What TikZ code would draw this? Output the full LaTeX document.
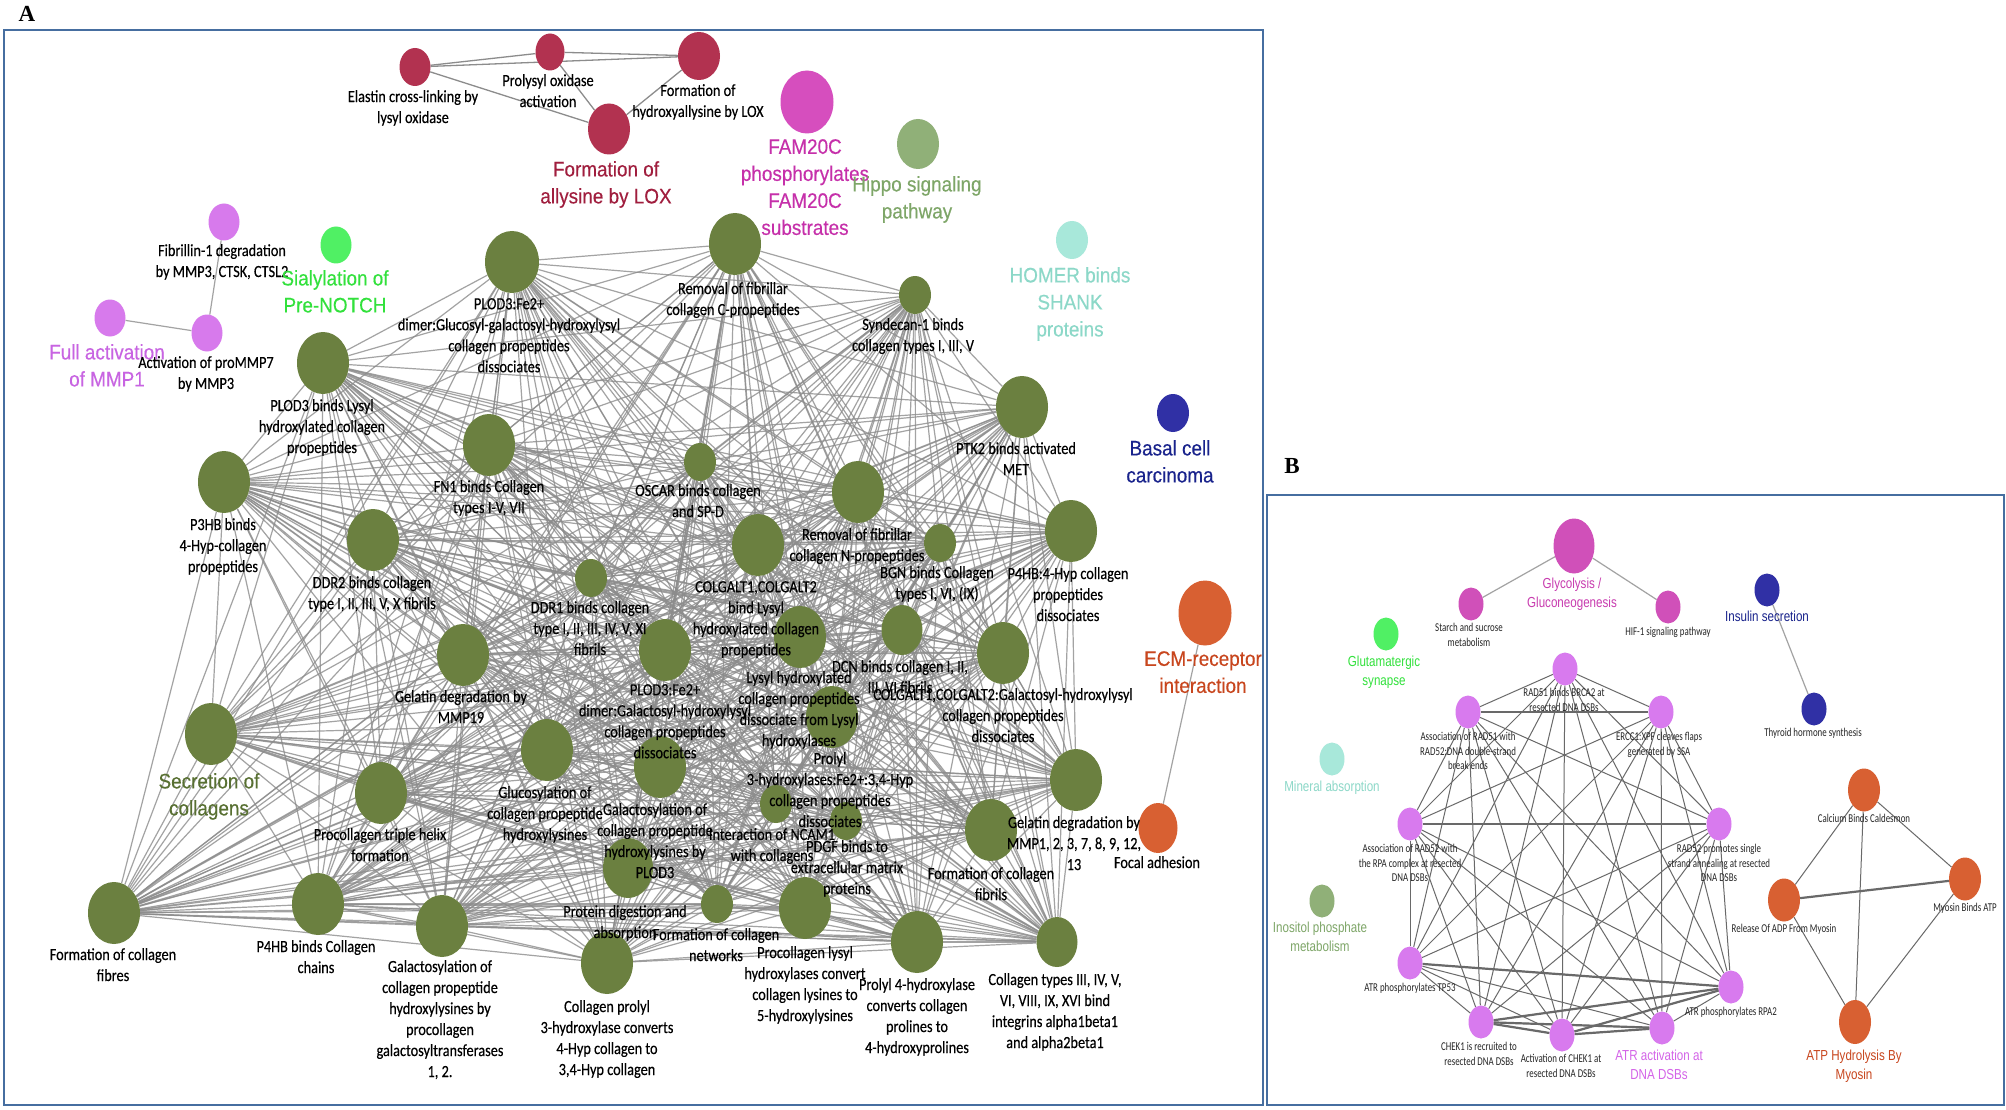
\documentclass[tikz,border=0pt]{standalone}
\usepackage{fontspec}
\setmainfont{Carlito}
\newfontfamily\calfa[FakeStretch=0.84,FakeBold=0.35]{Carlito}
\newfontfamily\calfb[FakeStretch=0.74]{Carlito}
\newfontfamily\arifa[FakeStretch=0.9,FakeBold=0.3]{Liberation Sans}
\newfontfamily\arifb[FakeStretch=0.8]{Liberation Sans}
\newfontfamily\timfa{Liberation Serif}
\usetikzlibrary{shapes.geometric}
\pgfdeclarelayer{back}
\pgfdeclarelayer{bg}
\pgfsetlayers{back,bg,main}
\newcommand\labfa{\calfa\fontsize{17}{21}\selectfont}
\newcommand\labfb{\calfb\fontsize{12}{14.5}\selectfont}
\newcommand\bigfa{\arifa\fontsize{21}{27}\selectfont}
\newcommand\bigfb{\arifb\fontsize{14.5}{18.5}\selectfont}
\newcommand\panelf{\timfa\bfseries\fontsize{23}{23}\selectfont}
\definecolor{olv}{RGB}{107,128,64}
\definecolor{oliveLab}{RGB}{88,112,50}
\definecolor{loxN}{RGB}{178,50,80}
\definecolor{loxL}{RGB}{160,30,62}
\definecolor{famN}{RGB}{214,78,190}
\definecolor{famL}{RGB}{198,48,170}
\definecolor{hipN}{RGB}{144,176,120}
\definecolor{hipL}{RGB}{126,166,104}
\definecolor{mmpN}{RGB}{215,122,236}
\definecolor{mmpL}{RGB}{200,100,226}
\definecolor{sialN}{RGB}{80,240,100}
\definecolor{sialL}{RGB}{50,225,60}
\definecolor{homN}{RGB}{168,232,218}
\definecolor{homL}{RGB}{140,216,200}
\definecolor{basN}{RGB}{48,48,165}
\definecolor{basL}{RGB}{25,35,140}
\definecolor{ecmN}{RGB}{216,96,50}
\definecolor{ecmL}{RGB}{200,70,30}
\definecolor{glyN}{RGB}{208,80,185}
\definecolor{glyL}{RGB}{200,60,175}
\definecolor{pinkN}{RGB}{216,122,238}
\definecolor{pinkL}{RGB}{212,100,232}
\definecolor{frameC}{RGB}{70,110,160}
\definecolor{edgeA}{RGB}{140,140,140}
\definecolor{edgeB}{RGB}{105,105,105}
\tikzset{
  nd/.style={ellipse, draw=none, inner sep=0pt},
  gbig/.style={nd, fill=olv, minimum width=52pt, minimum height=62pt},
  gmed/.style={nd, fill=olv, minimum width=41pt, minimum height=50pt},
  gsml/.style={nd, fill=olv, minimum width=32pt, minimum height=38pt},
  bnd/.style={nd, minimum width=25pt, minimum height=33pt},
  lab/.style={font=\labfa, align=center, anchor=north, inner sep=0pt, text=black},
  biglab/.style={font=\bigfa, align=center, anchor=north, inner sep=0pt},
  labb/.style={font=\labfb, align=center, anchor=north, inner sep=0pt, text=black!85},
  biglabb/.style={font=\bigfb, align=center, anchor=north, inner sep=0pt},
  aedge/.style={draw=edgeA, line width=1.2pt, draw opacity=0.8},
  ledge/.style={draw=edgeA, line width=1.3pt},
  bedge/.style={draw=edgeB, line width=1pt},
  bthick/.style={draw=edgeB, line width=2.2pt},
  frame/.style={draw=frameC, line width=2pt}
}
\begin{document}
\begin{tikzpicture}[x=1pt,y=-1pt]
\useasboundingbox (0,0) rectangle (2006,1110);
\begin{pgfonlayer}{back}
\fill[white] (0,0) rectangle (2006,1110);
\end{pgfonlayer}
\draw[frame] (4,30) rectangle (1263,1105);
\draw[frame] (1267,495) rectangle (2004,1105);
\node[font=\panelf, inner sep=0pt] (pA) at (27,14) {A};
\node[font=\panelf, inner sep=0pt] (pB) at (1292,466) {B};

% ---------- Panel A : small clusters ----------
\node[nd, fill=loxN, minimum width=31pt, minimum height=38pt] (l1) at (415,67) {};
\node[nd, fill=loxN, minimum width=29pt, minimum height=37pt] (l2) at (550,52) {};
\node[nd, fill=loxN, minimum width=42pt, minimum height=48pt] (l3) at (699,56) {};
\node[nd, fill=loxN, minimum width=42pt, minimum height=51pt] (l4) at (609,129) {};
\node[nd, fill=famN, minimum width=53pt, minimum height=63pt] (fam) at (807,102) {};
\node[nd, fill=hipN, minimum width=42pt, minimum height=50pt] (hip) at (918,144) {};
\node[nd, fill=homN, minimum width=32pt, minimum height=38pt] (hom) at (1072,240) {};
\node[nd, fill=basN, minimum width=32pt, minimum height=38pt] (bas) at (1173,413) {};
\node[nd, fill=ecmN, minimum width=53pt, minimum height=65pt] (ecm) at (1205,613) {};
\node[nd, fill=ecmN, minimum width=39pt, minimum height=50pt] (foc) at (1158,828) {};
\node[nd, fill=mmpN, minimum width=31pt, minimum height=37pt] (m1) at (224,222) {};
\node[nd, fill=mmpN, minimum width=31pt, minimum height=37pt] (m2) at (110,318) {};
\node[nd, fill=mmpN, minimum width=31pt, minimum height=37pt] (m3) at (207,333) {};
\node[nd, fill=sialN, minimum width=31pt, minimum height=37pt] (sia) at (336,245) {};

% ---------- Panel A : collagen cluster ----------
\node[gbig, minimum width=54pt] (g1) at (512,262) {};
\node[gbig] (g2) at (735,244) {};
\node[gsml] (g3) at (915,295) {};
\node[gbig] (g4) at (323,363) {};
\node[gbig] (g5) at (224,482) {};
\node[gbig] (g6) at (489,445) {};
\node[gsml] (g7) at (700,462) {};
\node[gbig] (g8) at (1022,407) {};
\node[gbig] (g9) at (858,492) {};
\node[gbig] (g10) at (758,545) {};
\node[gsml] (g11) at (940,543) {};
\node[gbig] (g12) at (373,540) {};
\node[gsml] (g13) at (591,578) {};
\node[gbig] (g14) at (1071,531) {};
\node[gbig] (g15) at (463,655) {};
\node[gbig] (g16) at (665,650) {};
\node[gbig] (g17) at (800,637) {};
\node[gmed] (g18) at (902,630) {};
\node[gbig] (g19) at (1003,653) {};
\node[gbig] (g20) at (832,717) {};
\node[gbig] (g21) at (211,734) {};
\node[gbig] (g22) at (547,750) {};
\node[gbig] (g23) at (660,767) {};
\node[gbig] (g24) at (381,793) {};
\node[gsml] (g25) at (776,804) {};
\node[gsml] (g26) at (846,821) {};
\node[gbig] (g27) at (1076,780) {};
\node[gbig] (g28) at (991,830) {};
\node[gbig, minimum width=50pt, minimum height=60pt] (g29) at (628,868) {};
\node[gsml] (g30) at (717,904) {};
\node[gbig] (g31) at (805,908) {};
\node[gbig] (g32) at (114,913) {};
\node[gbig] (g33) at (318,904) {};
\node[gbig] (g34) at (442,926) {};
\node[gbig] (g35) at (607,963) {};
\node[gbig] (g36) at (917,942) {};
\node[gmed] (g37) at (1057,942) {};

% ---------- Panel B nodes ----------
\node[nd, fill=glyN, minimum width=41pt, minimum height=55pt] (gly) at (1574,546) {};
\node[bnd, fill=glyN] (sta) at (1471,604) {};
\node[bnd, fill=glyN] (hif) at (1668,607) {};
\node[bnd, fill=basN] (ins) at (1767,590) {};
\node[bnd, fill=basN] (thy) at (1814,709) {};
\node[bnd, fill=sialN] (glu) at (1386,634) {};
\node[bnd, fill=homN] (min) at (1332,759) {};
\node[bnd, fill=hipN] (ino) at (1322,901) {};
\node[bnd, fill=pinkN] (r1) at (1565,669) {};
\node[bnd, fill=pinkN] (r2) at (1661,712) {};
\node[bnd, fill=pinkN] (r3) at (1719,824) {};
\node[bnd, fill=pinkN] (r4) at (1731,987) {};
\node[bnd, fill=pinkN] (r5) at (1662,1028) {};
\node[bnd, fill=pinkN] (r6) at (1562,1035) {};
\node[bnd, fill=pinkN] (r7) at (1481,1022) {};
\node[bnd, fill=pinkN] (r8) at (1410,963) {};
\node[bnd, fill=pinkN] (r9) at (1410,824) {};
\node[bnd, fill=pinkN] (r10) at (1468,712) {};
\node[nd, fill=ecmN, minimum width=32pt, minimum height=43pt] (o1) at (1864,790) {};
\node[nd, fill=ecmN, minimum width=32pt, minimum height=43pt] (o2) at (1965,879) {};
\node[nd, fill=ecmN, minimum width=32pt, minimum height=43pt] (o3) at (1784,900) {};
\node[nd, fill=ecmN, minimum width=32pt, minimum height=44pt] (o4) at (1855,1022) {};

% ---------- edges ----------
\begin{pgfonlayer}{bg}
\foreach \i in {1,...,36}{
  \pgfmathtruncatemacro\js{\i+1}
  \foreach \j in {\js,...,37}{ \draw[aedge] (g\i) -- (g\j); }
}
\draw[ledge] (l1) -- (l2);
\draw[ledge] (l1) -- (l3);
\draw[ledge] (l1) -- (l4);
\draw[ledge] (l2) -- (l3);
\draw[ledge] (l2) -- (l4);
\draw[ledge] (l3) -- (l4);
\draw[aedge] (m1) -- (m3);
\draw[aedge] (m2) -- (m3);
\draw[aedge] (ecm) -- (foc);
\draw[aedge] (gly) -- (sta);
\draw[aedge] (gly) -- (hif);
\draw[aedge] (ins) -- (thy);
\foreach \i in {1,...,9}{
  \pgfmathtruncatemacro\js{\i+1}
  \foreach \j in {\js,...,10}{ \draw[bedge] (r\i) -- (r\j); }
}
\draw[bthick] (r10) -- (r2);
\draw[bthick] (r9) -- (r3);
\draw[bthick] (r8) -- (r4);
\draw[bthick] (r7) -- (r4);
\draw[bthick] (r7) -- (r5);
\draw[bthick] (r6) -- (r4);
\draw[bthick] (r6) -- (r5);
\draw[bthick] (r7) -- (r6);
\draw[bedge] (o1) -- (o3);
\draw[bedge] (o1) -- (o2);
\draw[bedge] (o1) -- (o4);
\draw[bthick] (o3) -- (o2);
\draw[bedge] (o3) -- (o4);
\draw[bedge] (o2) -- (o4);
\end{pgfonlayer}

% ---------- Panel A labels ----------
\node[lab] (tl1) at (413,90) {Elastin cross-linking by\\lysyl oxidase};
\node[lab] (tl2) at (548,74) {Prolysyl oxidase\\activation};
\node[lab] (tl3) at (698,84) {Formation of\\hydroxyallysine by LOX};
\node[biglab, text=loxL] (tl4) at (606,161) {Formation of\\allysine by LOX};
\node[biglab, text=famL] (tfam) at (805,139) {FAM20C\\phosphorylates\\FAM20C\\substrates};
\node[biglab, text=hipL] (thip) at (917,176) {Hippo signaling\\pathway};
\node[biglab, text=homL] (thom) at (1070,267) {HOMER binds\\SHANK\\proteins};
\node[biglab, text=basL] (tbas) at (1170,440) {Basal cell\\carcinoma};
\node[biglab, text=ecmL] (tecm) at (1203,651) {ECM-receptor\\interaction};
\node[lab] (tfoc) at (1157,856) {Focal adhesion};
\node[lab] (tm1) at (222,244) {Fibrillin-1 degradation\\by MMP3, CTSK, CTSL2};
\node[biglab, text=sialL] (tsia) at (335,270) {Sialylation of\\Pre-NOTCH};
\node[biglab, text=mmpL] (tm2) at (107,344) {Full activation\\of MMP1};
\node[lab] (tm3) at (206,356) {Activation of proMMP7\\by MMP3};

\node[lab] (t1) at (509,298) {PLOD3:Fe2+\\dimer:Glucosyl-galactosyl-hydroxylysyl\\collagen propeptides\\dissociates};
\node[lab] (t2) at (733,282) {Removal of fibrillar\\collagen C-propeptides};
\node[lab] (t3) at (913,318) {Syndecan-1 binds\\collagen types I, III, V};
\node[lab] (t4) at (322,399) {PLOD3 binds Lysyl\\hydroxylated collagen\\propeptides};
\node[lab] (t5) at (223,518) {P3HB binds\\4-Hyp-collagen\\propeptides};
\node[lab] (t6) at (489,480) {FN1 binds Collagen\\types I-V, VII};
\node[lab] (t7) at (698,484) {OSCAR binds collagen\\and SP-D};
\node[lab] (t8) at (1016,442) {PTK2 binds activated\\MET};
\node[lab] (t9) at (857,528) {Removal of fibrillar\\collagen N-propeptides};
\node[lab] (t10) at (756,581) {COLGALT1,COLGALT2\\bind Lysyl\\hydroxylated collagen\\propeptides};
\node[lab] (t11) at (937,566) {BGN binds Collagen\\types I, VI, (IX)};
\node[lab] (t12) at (372,576) {DDR2 binds collagen\\type I, II, III, V, X fibrils};
\node[lab] (t13) at (590,601) {DDR1 binds collagen\\type I, II, III, IV, V, XI\\fibrils};
\node[lab] (t14) at (1068,567) {P4HB:4-Hyp collagen\\propeptides\\dissociates};
\node[lab] (t15) at (461,690) {Gelatin degradation by\\MMP19};
\node[lab] (t16) at (665,684) {PLOD3:Fe2+\\dimer:Galactosyl-hydroxylysyl\\collagen propeptides\\dissociates};
\node[lab] (t17) at (799,671) {Lysyl hydroxylated\\collagen propeptides\\dissociate from Lysyl\\hydroxylases};
\node[lab] (t18) at (900,660) {DCN binds collagen I, II,\\III, VI fibrils};
\node[lab] (t19) at (1003,688) {COLGALT1,COLGALT2:Galactosyl-hydroxylysyl\\collagen propeptides\\dissociates};
\node[lab] (t20) at (830,752) {Prolyl\\3-hydroxylases:Fe2+:3,4-Hyp\\collagen propeptides\\dissociates};
\node[biglab, text=oliveLab] (t21) at (209,773) {Secretion of\\collagens};
\node[lab] (t22) at (545,786) {Glucosylation of\\collagen propeptide\\hydroxylysines};
\node[lab] (t23) at (655,803) {Galactosylation of\\collagen propeptide\\hydroxylysines by\\PLOD3};
\node[lab] (t24) at (380,828) {Procollagen triple helix\\formation};
\node[lab] (t25) at (772,828) {Interaction of NCAM1\\with collagens};
\node[lab] (t26) at (847,840) {PDGF binds to\\extracellular matrix\\proteins};
\node[lab] (t27) at (1074,816) {Gelatin degradation by\\MMP1, 2, 3, 7, 8, 9, 12,\\13};
\node[lab] (t28) at (991,867) {Formation of collagen\\fibrils};
\node[lab] (t29) at (625,905) {Protein digestion and\\absorption};
\node[lab] (t30) at (716,928) {Formation of collagen\\networks};
\node[lab] (t31) at (805,946) {Procollagen lysyl\\hydroxylases convert\\collagen lysines to\\5-hydroxylysines};
\node[lab] (t32) at (113,948) {Formation of collagen\\fibres};
\node[lab] (t33) at (316,940) {P4HB binds Collagen\\chains};
\node[lab] (t34) at (440,960) {Galactosylation of\\collagen propeptide\\hydroxylysines by\\procollagen\\galactosyltransferases\\1, 2.};
\node[lab] (t35) at (607,1000) {Collagen prolyl\\3-hydroxylase converts\\4-Hyp collagen to\\3,4-Hyp collagen};
\node[lab] (t36) at (917,978) {Prolyl 4-hydroxylase\\converts collagen\\prolines to\\4-hydroxyprolines};
\node[lab] (t37) at (1055,973) {Collagen types III, IV, V,\\VI, VIII, IX, XVI bind\\integrins alpha1beta1\\and alpha2beta1};

% ---------- Panel B labels ----------
\node[biglabb, text=glyL] (tgly) at (1572,578) {Glycolysis /\\Gluconeogenesis};
\node[labb] (tsta) at (1469,623) {Starch and sucrose\\metabolism};
\node[labb] (thif) at (1668,627) {HIF-1 signaling pathway};
\node[biglabb, text=basL] (tins) at (1767,611) {Insulin secretion};
\node[labb] (tthy) at (1813,728) {Thyroid hormone synthesis};
\node[biglabb, text=sialL] (tglu) at (1384,656) {Glutamatergic\\synapse};
\node[biglabb, text=homL] (tmin) at (1332,781) {Mineral absorption};
\node[biglabb, text=hipL] (tino) at (1320,922) {Inositol phosphate\\metabolism};
\node[labb] (tr1) at (1564,688) {RAD51 binds BRCA2 at\\resected DNA DSBs};
\node[labb] (tr10) at (1468,732) {Association of RAD51 with\\RAD52:DNA double-strand\\break ends};
\node[labb] (tr2) at (1659,732) {ERCC1:XPF cleaves flaps\\generated by SSA};
\node[labb] (tr9) at (1410,844) {Association of RAD52 with\\the RPA complex at resected\\DNA DSBs};
\node[labb] (tr3) at (1719,844) {RAD52 promotes single\\strand annealing at resected\\DNA DSBs};
\node[labb] (tr8) at (1410,983) {ATR phosphorylates TP53};
\node[labb] (tr4) at (1731,1007) {ATR phosphorylates RPA2};
\node[labb] (tr7) at (1479,1042) {CHEK1 is recruited to\\resected DNA DSBs};
\node[labb] (tr6) at (1561,1054) {Activation of CHEK1 at\\resected DNA DSBs};
\node[biglabb, text=pinkL] (tr5) at (1659,1050) {ATR activation at\\DNA DSBs};
\node[labb] (to1) at (1864,814) {Calcium Binds Caldesmon};
\node[labb] (to2) at (1965,903) {Myosin Binds ATP};
\node[labb] (to3) at (1784,924) {Release Of ADP From Myosin};
\node[biglabb, text=ecmL] (to4) at (1854,1050) {ATP Hydrolysis By\\Myosin};
\end{tikzpicture}
\end{document}
